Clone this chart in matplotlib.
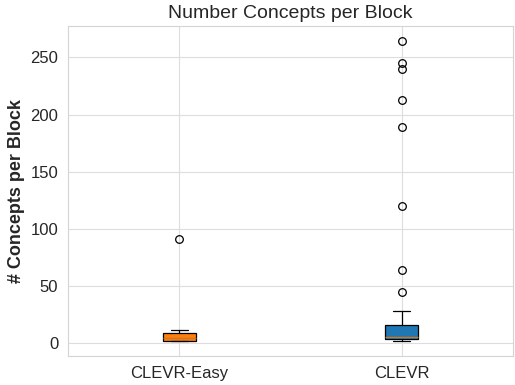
import matplotlib

matplotlib.use("Agg")
import matplotlib.pyplot as plt
import seaborn as sns

datasets = ["CLEVR-Easy", "CLEVR"]
box_colors = ["#ff7f0e", "#1f77b4"]

# per-dataset summary statistics of concepts per block
medians = [4.5, 5.2]
q1 = [1.7, 3.5]
q3 = [8.7, 15.7]
whisker_low = [1.7, 1.7]
whisker_high = [11.4, 28.0]
outliers = [
    [91.0],
    [264.0, 245.0, 240.0, 213.0, 189.0, 120.0, 64.0, 45.0],
]

sns.set_style("whitegrid", {"grid.color": "#dddddd", "axes.edgecolor": "#d4d4d4"})
plt.rcParams["font.family"] = ["Liberation Sans", "DejaVu Sans"]

stats = []
for i, name in enumerate(datasets):
    stats.append(
        {
            "label": name,
            "med": medians[i],
            "q1": q1[i],
            "q3": q3[i],
            "whislo": whisker_low[i],
            "whishi": whisker_high[i],
            "fliers": outliers[i],
        }
    )

fig = plt.figure(figsize=(5.15, 3.85), dpi=100)
ax = fig.add_axes([0.132, 0.075, 0.864, 0.857])
line_kw = {"color": "black", "linewidth": 0.9}
bp = ax.bxp(
    stats,
    widths=0.15,
    patch_artist=True,
    medianprops={"color": "#c8782a", "linewidth": 1.0},
    whiskerprops=line_kw,
    capprops=line_kw,
    boxprops={"linewidth": 0.9},
    flierprops={
        "marker": "o",
        "markerfacecolor": "none",
        "markeredgecolor": "black",
        "markersize": 5.5,
        "markeredgewidth": 0.9,
    },
)
for patch, color in zip(bp["boxes"], box_colors):
    patch.set_facecolor(color)
    patch.set_edgecolor("black")

ax.set_title("Number Concepts per Block", fontsize=14)
ax.set_ylabel("# Concepts per Block", fontsize=13, fontweight="bold")
ax.tick_params(axis="both", labelsize=12)
ax.set_xlim(0.5, 2.5)
ax.set_ylim(-11.4, 277.3)

fig.savefig("out.png", dpi=100)
plt.close(fig)
